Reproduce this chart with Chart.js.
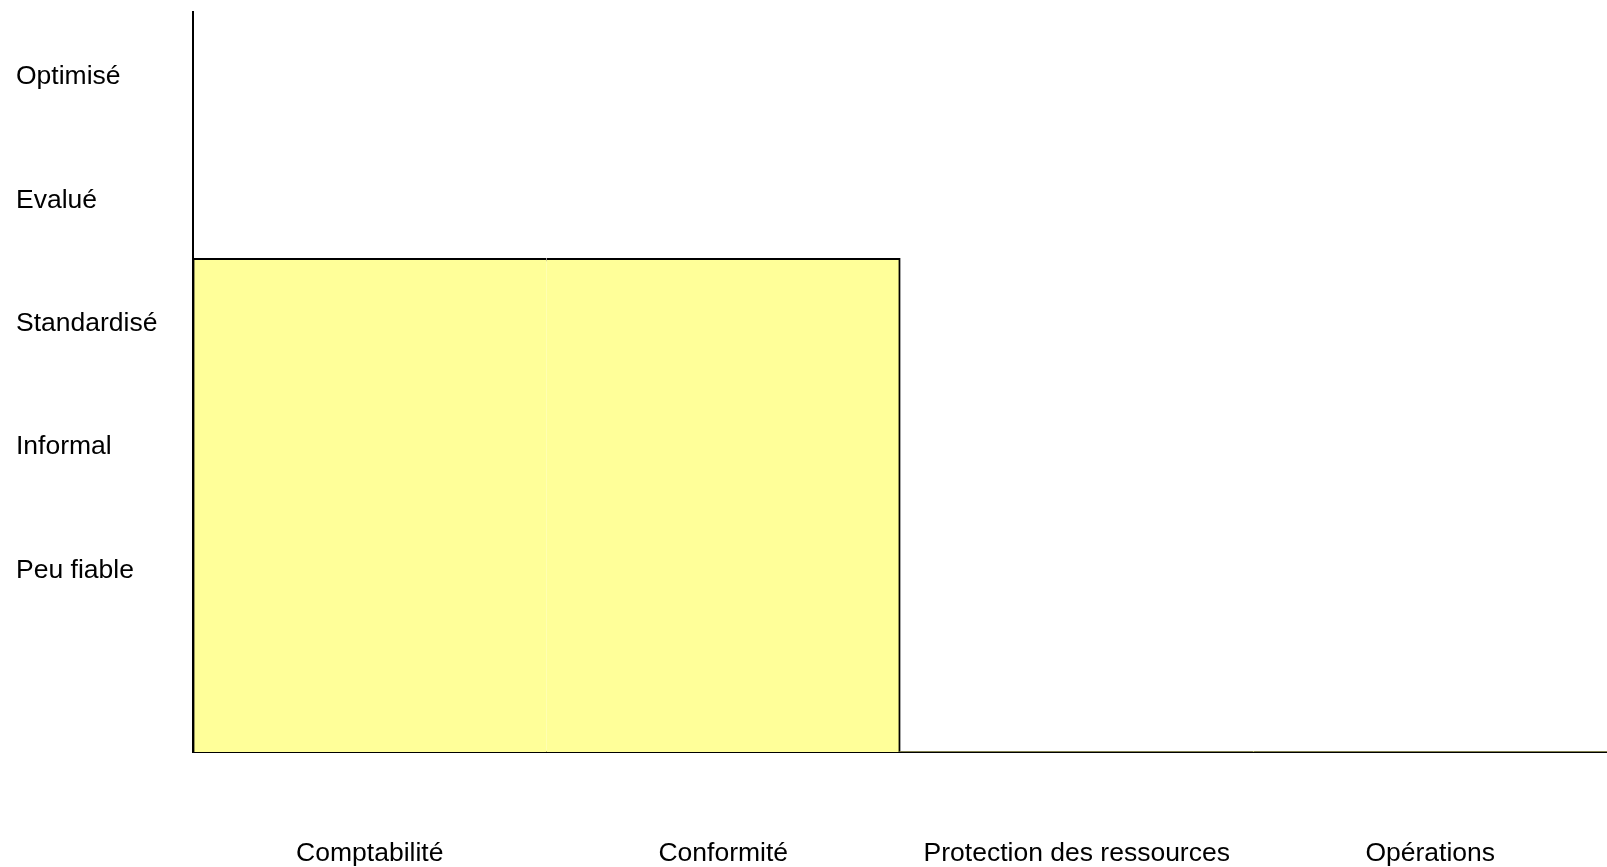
<!DOCTYPE html>
<html lang="fr">
<head>
<meta charset="utf-8">
<title>Niveaux de maturité</title>
<script src="https://cdn.jsdelivr.net/npm/chart.js@4.4.1/dist/chart.umd.min.js"></script>
<style>
  html, body { margin: 0; padding: 0; background: #fff; }
  #wrap { width: 1607px; height: 867px; position: relative; }
</style>
</head>
<body>
<div id="wrap"><canvas id="maturityChart"></canvas></div>
<script>
// Catégories (axe X)
const categories = ["Comptabilité", "Conformité", "Protection des ressources", "Opérations"];

// Niveaux de maturité (axe Y), du plus bas au plus haut
const levelLabels = ["Peu fiable", "Informal", "Standardisé", "Evalué", "Optimisé"];
const levelTicks = [1.5, 2.5, 3.5, 4.5, 5.5];

// Niveau atteint par catégorie
const levelValues = [4, 4, 0, 0];

const FONT = "'Liberation Sans', Arial, sans-serif";

// Bordure : les deux premières barres forment un seul bloc
const barBorder = (ctx) => {
  if (ctx.dataIndex === 0) return { top: 2, left: 2, right: 0, bottom: 0 };
  if (ctx.dataIndex === 1) return { top: 2, right: 2, left: 0, bottom: 0 };
  return 0;
};

const initChart = () => {
  const ctx = document.getElementById("maturityChart").getContext("2d");

  new Chart(ctx, {
    type: "bar",
    data: {
      labels: categories,
      datasets: [
        {
          data: levelValues,
          backgroundColor: "#FFFF99",
          borderColor: "#000",
          borderWidth: barBorder,
          borderSkipped: false,
          inflateAmount: 0.6,
          categoryPercentage: 1,
          barPercentage: 1,
        },
      ],
    },
    options: {
      responsive: true,
      maintainAspectRatio: false,
      animation: false,
      layout: { padding: { top: 12, left: 16, right: 0, bottom: 0 } },
      plugins: {
        legend: { display: false },
        tooltip: { enabled: false },
      },
      scales: {
        x: {
          grid: { drawOnChartArea: false, drawTicks: false },
          border: { display: true, color: "#000", width: 2 },
          ticks: {
            color: "#000",
            font: { family: FONT, size: 26.5 },
            padding: 86,
            maxRotation: 0,
          },
          afterFit: (scale) => {
            scale.height = 115;
            scale.paddingLeft = 0;
            scale.paddingRight = 0;
          },
        },
        y: {
          min: 0,
          max: 6,
          grid: { drawOnChartArea: false, drawTicks: false },
          border: { display: true, color: "#000", width: 2 },
          afterBuildTicks: (scale) => {
            scale.ticks = levelTicks.map((v) => ({ value: v }));
          },
          afterFit: (scale) => {
            scale.width = 177;
            scale.paddingTop = 0;
            scale.paddingBottom = 0;
          },
          ticks: {
            color: "#000",
            crossAlign: "far",
            labelOffset: 3.5,
            font: { family: FONT, size: 26.5 },
            callback: (value) => {
              const i = levelTicks.indexOf(value);
              return i >= 0 ? levelLabels[i] : "";
            },
          },
        },
      },
    },
  });
};

document.addEventListener("DOMContentLoaded", initChart);
</script>
</body>
</html>
